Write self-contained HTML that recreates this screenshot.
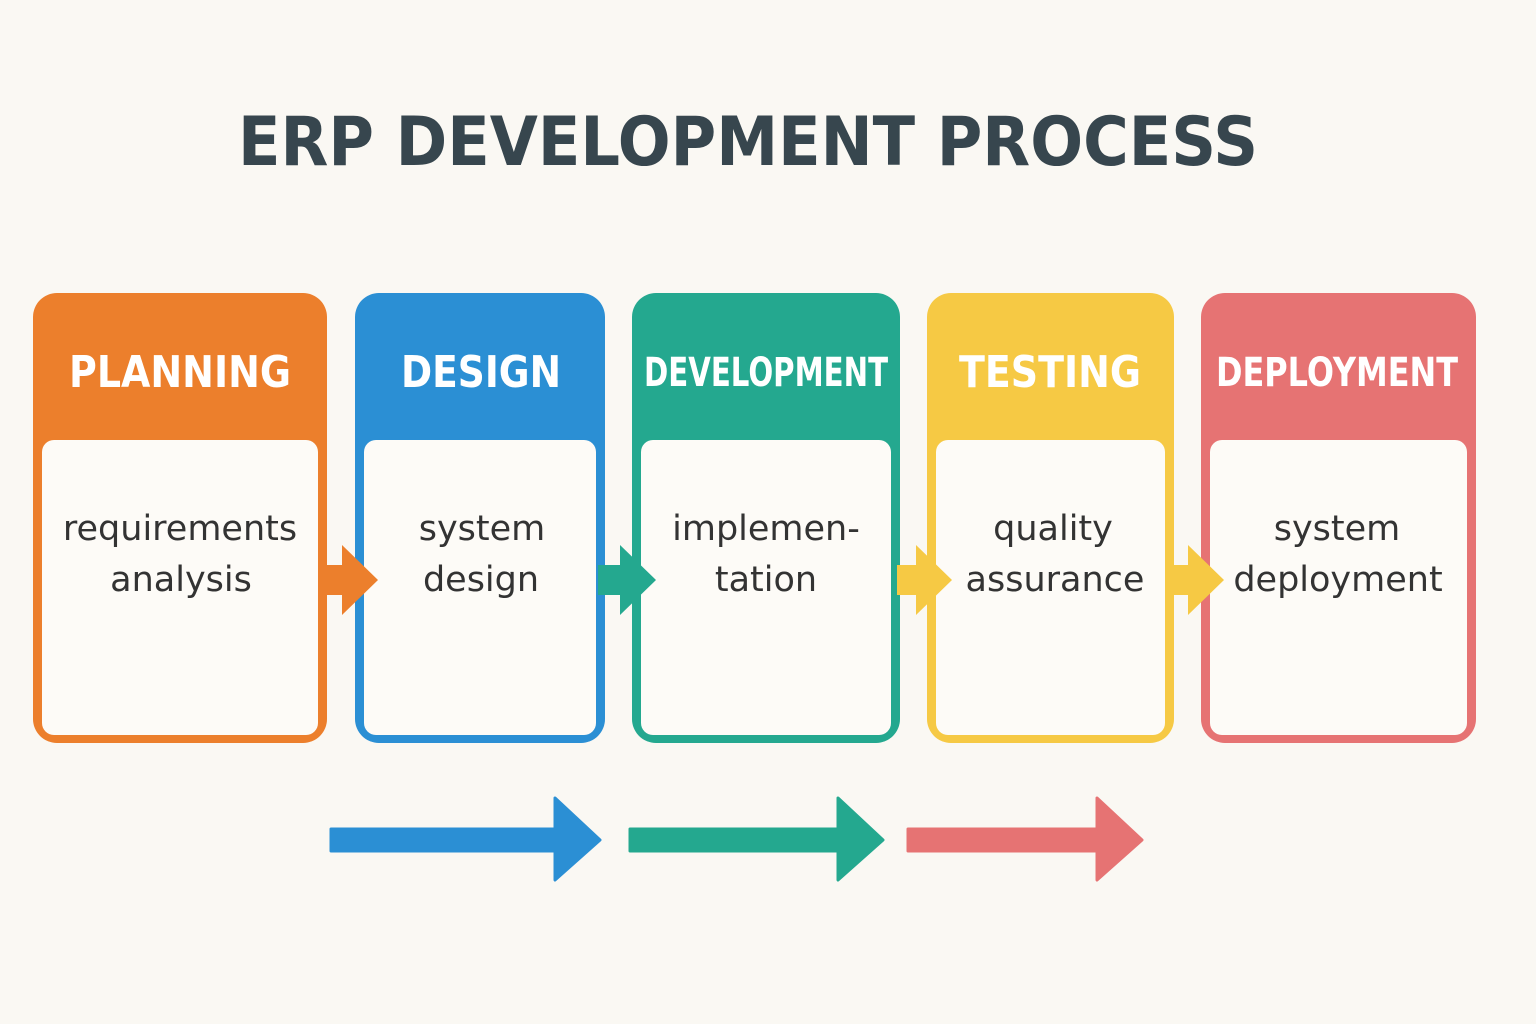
<!DOCTYPE html>
<html><head><meta charset="utf-8"><style>
html,body{margin:0;padding:0;background:#faf8f3;}
svg{display:block}
</style></head><body>
<svg width="1536" height="1024" viewBox="0 0 1536 1024" xmlns="http://www.w3.org/2000/svg">
<rect width="1536" height="1024" fill="#faf8f3"/>
<text x="748" y="165" text-anchor="middle" font-family="DejaVu Sans, Liberation Sans, sans-serif" font-weight="bold" font-size="68" fill="#37464e" textLength="1020" lengthAdjust="spacingAndGlyphs">ERP DEVELOPMENT PROCESS</text>

<g font-family="DejaVu Sans, Liberation Sans, sans-serif">
<rect x="33" y="293" width="294" height="450" rx="24" fill="#ec7f2c"/>
<rect x="42" y="440" width="276" height="295" rx="12" fill="#fdfbf7"/>
<text x="180" y="387" text-anchor="middle" font-weight="bold" font-size="44" fill="#fff" textLength="222" lengthAdjust="spacingAndGlyphs">PLANNING</text>

<rect x="355" y="293" width="250" height="450" rx="24" fill="#2b8fd4"/>
<rect x="364" y="440" width="232" height="295" rx="12" fill="#fdfbf7"/>
<text x="481" y="387" text-anchor="middle" font-weight="bold" font-size="44" fill="#fff" textLength="160" lengthAdjust="spacingAndGlyphs">DESIGN</text>

<rect x="632" y="293" width="268" height="450" rx="24" fill="#24a88f"/>
<rect x="641" y="440" width="250" height="295" rx="12" fill="#fdfbf7"/>
<text x="766" y="386" text-anchor="middle" font-weight="bold" font-size="40" fill="#fff" textLength="244" lengthAdjust="spacingAndGlyphs">DEVELOPMENT</text>

<rect x="927" y="293" width="247" height="450" rx="24" fill="#f6c944"/>
<rect x="936" y="440" width="229" height="295" rx="12" fill="#fdfbf7"/>
<text x="1050" y="387" text-anchor="middle" font-weight="bold" font-size="44" fill="#fff" textLength="182" lengthAdjust="spacingAndGlyphs">TESTING</text>

<rect x="1201" y="293" width="275" height="450" rx="24" fill="#e67373"/>
<rect x="1210" y="440" width="257" height="295" rx="12" fill="#fdfbf7"/>
<text x="1337" y="386" text-anchor="middle" font-weight="bold" font-size="40" fill="#fff" textLength="242" lengthAdjust="spacingAndGlyphs">DEPLOYMENT</text>

<g font-size="35" fill="#333" text-anchor="middle">
<text x="180" y="540">requirements</text><text x="181" y="591">analysis</text>
<text x="482" y="540">system</text><text x="481" y="591">design</text>
<text x="766" y="540">implemen-</text><text x="766" y="591">tation</text>
<text x="1053" y="540">quality</text><text x="1055" y="591">assurance</text>
<text x="1337" y="540">system</text><text x="1338" y="591">deployment</text>
</g>
</g>

<g>
<path d="M322 565 H342 V545 L378 580 L342 615 V595 H322 Z" fill="#ec7f2c"/>
<path d="M598 565 H620 V545 L656 580 L620 615 V595 H598 Z" fill="#24a88f"/>
<path d="M897 565 H916 V545 L952 580 L916 615 V595 H897 Z" fill="#f6c944"/>
<path d="M1170 565 H1188 V545 L1224 580 L1188 615 V595 H1170 Z" fill="#f6c944"/>
</g>

<path d="M331 829 H555 V798 L600 840 L555 880 V851 H331 Z" fill="#2b8fd4" stroke="#2b8fd4" stroke-width="3" stroke-linejoin="round"/>
<path d="M630 829 H838 V798 L883 840 L838 880 V851 H630 Z" fill="#24a88f" stroke="#24a88f" stroke-width="3" stroke-linejoin="round"/>
<path d="M908 829 H1097 V798 L1142 840 L1097 880 V851 H908 Z" fill="#e67373" stroke="#e67373" stroke-width="3" stroke-linejoin="round"/>
</svg>
</body></html>
